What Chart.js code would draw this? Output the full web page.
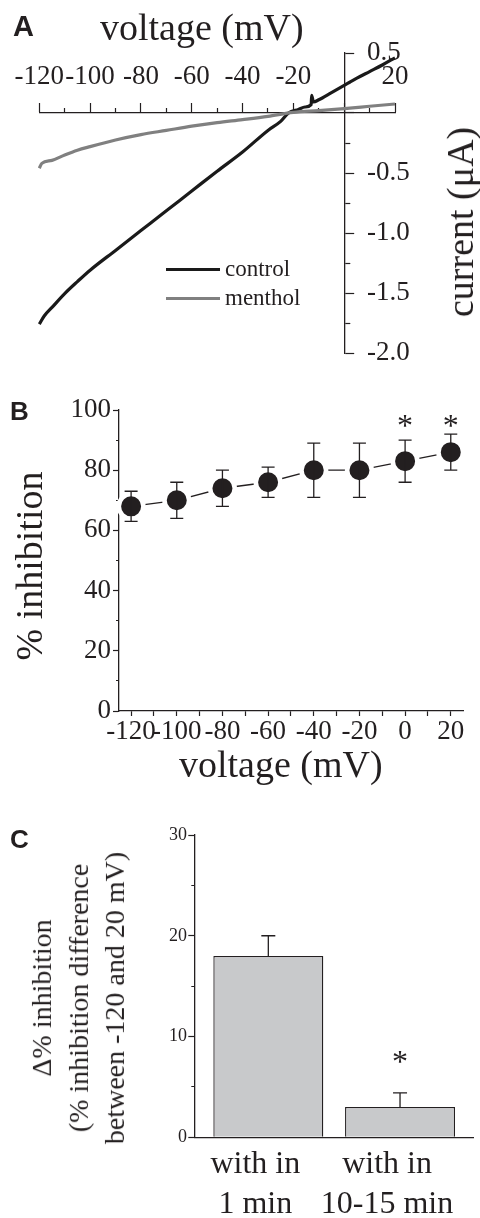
<!DOCTYPE html>
<html>
<head>
<meta charset="utf-8">
<script src="https://cdn.jsdelivr.net/npm/chart.js@4.4.1/dist/chart.umd.min.js"></script>
<style>
  body { margin: 0; width: 480px; height: 1218px; position: relative; background: #fff; overflow: hidden; }
  .panel { position: absolute; left: 0; width: 480px; }
  .txt { position: absolute; white-space: nowrap; line-height: 1; color: #231f20; font-family: 'Liberation Serif', 'Times New Roman', serif; }
  .rot { transform: translate(-50%, -50%) rotate(-90deg); text-align: center; }
  .letter { position: absolute; font-family: 'Liberation Sans', Arial, sans-serif; font-weight: bold; line-height: 1; color: #231f20; }
  .swatch { position: absolute; height: 3px; width: 54px; }
</style>
</head>
<body>

<div class="panel" style="top:0;height:370px"><canvas id="chartA"></canvas></div>
<div class="panel" style="top:370px;height:420px"><canvas id="chartB"></canvas></div>
<div class="panel" style="top:790px;height:428px"><canvas id="chartC"></canvas></div>

<!-- panel letters and axis titles -->
<div class="letter" style="left:13px;top:12px;font-size:29px">A</div>
<div class="letter" style="left:10px;top:398px;font-size:26px">B</div>
<div class="letter" style="left:10px;top:826px;font-size:26px">C</div>

<div class="txt" style="left:100px;top:8px;font-size:38px">voltage (mV)</div>
<div class="txt rot" style="left:460px;top:222px;font-size:38px">current (μA)</div>

<div class="swatch" style="left:166px;top:268px;background:#1a1a1a"></div>
<div class="txt" style="left:225px;top:257px;font-size:23px">control</div>
<div class="swatch" style="left:166px;top:297px;background:#808080"></div>
<div class="txt" style="left:225px;top:286px;font-size:23px">menthol</div>

<div class="txt rot" style="left:29px;top:566px;font-size:38px">% inhibition</div>
<div class="txt" style="left:179px;top:745px;font-size:38px">voltage (mV)</div>

<div class="txt rot" style="left:79px;top:998px;font-size:28px;line-height:36.7px">Δ% inhibition<br>(% inhibition difference<br>between -120 and 20 mV)</div>

<script>
// A: current traces, voltage in mV, current in µA
const controlV = [-120, -118, -115, -110, -105, -100, -90, -80, -70, -60, -50, -40, -30, -25, -21.9, -18, -15.4, -13, -12.8, -12.1, -10, -5, 0, 5, 10, 15, 20];
const controlI = [-1.76, -1.69, -1.62, -1.505, -1.405, -1.31, -1.145, -0.98, -0.815, -0.65, -0.485, -0.325, -0.145, -0.07, 0.0, 0.03, 0.05, 0.07, 0.148, 0.092, 0.11, 0.17, 0.23, 0.29, 0.345, 0.40, 0.46];
const mentholV = [-120, -119, -115, -110, -105, -100, -90, -80, -70, -60, -50, -40, -30, -20, -10, 0, 10, 20];
const mentholI = [-0.46, -0.42, -0.395, -0.35, -0.31, -0.28, -0.225, -0.18, -0.145, -0.11, -0.08, -0.055, -0.028, 0.005, 0.02, 0.037, 0.056, 0.075];

// B: % inhibition vs voltage
const voltages = [-120, -100, -80, -60, -40, -20, 0, 20];
const inhibition = [68, 70, 74, 76, 80, 80, 83, 86];
const inhibitionErr = [5, 6, 6, 5, 9, 9, 7, 6];
const starsB = [0, 20];

// C: change of inhibition
const groupLabels = [['with in', '1 min'], ['with in', '10-15 min']];
const deltaInh = [18, 3];
const deltaErr = [2, 1.4];
const starsC = [2];

const ink = '#231f20';
Chart.defaults.font.family = "'Liberation Serif', 'Times New Roman', serif";
Chart.defaults.color = ink;
Chart.defaults.animation = false;
Chart.defaults.plugins.legend.display = false;
Chart.defaults.plugins.tooltip.enabled = false;

// short minor ticks, drawn with a dash on the tick line
function tickDash(isMajor, len, minor, fromAxis) {
  return c => {
    if (!c.tick || isMajor(c.tick.value)) return [];
    return fromAxis ? [minor, 100] : [0, len - minor, minor, 100];
  };
}
const axisGrid = (len, dash) => ({
  drawOnChartArea: false, tickLength: len, tickWidth: 1.2, tickColor: ink, tickBorderDash: dash
});
const axisBorder = { color: ink, width: 1.3 };

// asterisks drawn at data positions
function starPlugin(xs, yv, size) {
  return {
    id: 'stars',
    afterDatasetsDraw(chart) {
      const { ctx, scales: { x, y } } = chart;
      ctx.save();
      ctx.fillStyle = ink;
      ctx.font = size + "px 'Liberation Serif'";
      ctx.textAlign = 'center';
      ctx.textBaseline = 'alphabetic';
      xs.forEach((v, i) => {
        ctx.fillText('*', x.getPixelForValue(v), y.getPixelForValue(yv[i]) + 0.47 * size);
      });
      ctx.restore();
    }
  };
}

// ---------- A ----------
new Chart(document.getElementById('chartA'), {
  type: 'line',
  data: {
    datasets: [
      { label: 'control', data: controlV.map((v, i) => ({ x: v, y: controlI[i] })), borderColor: '#1a1a1a', borderWidth: 3.2, pointRadius: 0, cubicInterpolationMode: 'monotone', order: 2, clip: false },
      { label: 'menthol', data: mentholV.map((v, i) => ({ x: v, y: mentholI[i] })), borderColor: '#808080', borderWidth: 3.2, pointRadius: 0, cubicInterpolationMode: 'monotone', order: 1, clip: false }
    ]
  },
  options: {
    maintainAspectRatio: false,
    layout: { padding: { left: 39.3, right: 0, top: 0, bottom: 17 } },
    scales: {
      x: {
        type: 'linear', position: 'top', min: -120, max: 20,
        ticks: { stepSize: 10, autoSkip: false, maxRotation: 0, padding: 10, font: { size: 27 },
          callback: v => (v % 20 === 0 && v !== 0) ? String(v) : '' },
        grid: axisGrid(10, tickDash(v => v % 20 === 0, 10, 5, false)),
        border: axisBorder,
        afterFit: s => { s.height = 53; s.paddingLeft = 0; s.paddingRight = 0; }
      },
      y: {
        type: 'linear', position: 'right', min: -2, max: 0.5,
        ticks: { stepSize: 0.25, autoSkip: false, padding: 12.7, font: { size: 27 },
          callback: v => (Math.abs(v % 0.5) < 1e-9 && v !== 0) ? v.toFixed(1) : '' },
        grid: axisGrid(10, tickDash(v => Math.abs(v % 0.5) < 1e-9, 10, 5, true)),
        border: axisBorder,
        afterFit: s => { s.width = 85; s.paddingTop = 0; s.paddingBottom = 0; }
      }
    }
  },
  plugins: [{
    // move both axes so they cross at (0 mV, 0 µA)
    id: 'crossAxes',
    afterLayout(chart) {
      const { x, y } = chart.scales;
      const y0 = y.getPixelForValue(0);
      x.top = y0 - x.height;
      x.bottom = y0;
      const x0 = x.getPixelForValue(0);
      y.left = x0;
      y.right = x0 + y.width;
    }
  }]
});

// ---------- B ----------
new Chart(document.getElementById('chartB'), {
  type: 'line',
  data: {
    datasets: [{
      data: voltages.map((v, i) => ({ x: v, y: inhibition[i] })),
      borderColor: ink, borderWidth: 1.3, tension: 0, clip: false,
      pointRadius: 12.3, pointBorderWidth: 4.6, pointBackgroundColor: ink, pointBorderColor: '#fff'
    }]
  },
  options: {
    maintainAspectRatio: false,
    layout: { padding: { left: 0, right: 4, top: 40, bottom: 0 } },
    scales: {
      x: {
        type: 'linear', min: -125.3, max: 25.4,
        ticks: { stepSize: 10, includeBounds: false, autoSkip: false, maxRotation: 0, padding: 0, font: { size: 27 },
          callback: v => v % 20 === 0 ? String(v) : '' },
        grid: axisGrid(5, []),
        border: axisBorder,
        afterFit: s => { s.height = 79; s.paddingLeft = 0; s.paddingRight = 0; }
      },
      y: {
        min: 0, max: 100,
        ticks: { stepSize: 10, autoSkip: false, padding: 2, font: { size: 27 },
          callback: v => v % 20 === 0 ? String(v) : '' },
        grid: axisGrid(6, tickDash(v => v % 20 === 0, 6, 3, false)),
        border: axisBorder,
        afterFit: s => { s.width = 119; s.paddingTop = 0; s.paddingBottom = 0; }
      }
    }
  },
  plugins: [{
    id: 'errB',
    afterDatasetsDraw(chart) {
      const { ctx, scales: { x, y } } = chart;
      ctx.save();
      ctx.strokeStyle = ink;
      ctx.lineWidth = 1.3;
      voltages.forEach((v, i) => {
        const px = x.getPixelForValue(v);
        const hi = y.getPixelForValue(inhibition[i] + inhibitionErr[i]);
        const lo = y.getPixelForValue(inhibition[i] - inhibitionErr[i]);
        ctx.beginPath();
        ctx.moveTo(px, hi); ctx.lineTo(px, lo);
        ctx.moveTo(px - 6.5, hi); ctx.lineTo(px + 6.5, hi);
        ctx.moveTo(px - 6.5, lo); ctx.lineTo(px + 6.5, lo);
        ctx.stroke();
      });
      ctx.restore();
    }
  }, starPlugin(starsB, [96.3, 96.3], 32)]
});

// ---------- C ----------
new Chart(document.getElementById('chartC'), {
  type: 'bar',
  data: {
    datasets: [{
      data: deltaInh.map((d, i) => ({ x: i + 1, y: d })),
      backgroundColor: '#c8c9cb', borderColor: ink, borderWidth: 1.3,
      barPercentage: 1, categoryPercentage: 0.835
    }]
  },
  options: {
    maintainAspectRatio: false,
    layout: { padding: { left: 0, right: 7, top: 45, bottom: 0 } },
    scales: {
      x: {
        type: 'linear', min: 0.438, max: 2.554, offset: false,
        afterBuildTicks: s => { s.ticks = groupLabels.map((g, i) => ({ value: i + 1 })); },
        ticks: { autoSkip: false, maxRotation: 0, padding: 6.9, labelOffset: -13, font: { size: 32, lineHeight: 1.25 },
          callback: v => groupLabels[v - 1] },
        grid: { drawOnChartArea: false, drawTicks: false, offset: false },
        border: axisBorder,
        afterFit: s => { s.height = 80.7; s.paddingLeft = 0; s.paddingRight = 0; }
      },
      y: {
        min: 0, max: 30,
        ticks: { stepSize: 5, autoSkip: false, padding: 1.3, font: { size: 18 },
          callback: v => v % 10 === 0 ? String(v) : '' },
        grid: axisGrid(6, tickDash(v => v % 10 === 0, 6, 3, false)),
        border: axisBorder,
        afterFit: s => { s.width = 194.3; s.paddingTop = 0; s.paddingBottom = 0; }
      }
    }
  },
  plugins: [{
    id: 'errC',
    afterDatasetsDraw(chart) {
      const { ctx, scales: { x, y } } = chart;
      ctx.save();
      ctx.strokeStyle = ink;
      ctx.lineWidth = 1.3;
      deltaInh.forEach((d, i) => {
        const px = x.getPixelForValue(i + 1);
        const hi = y.getPixelForValue(d + deltaErr[i]);
        ctx.beginPath();
        ctx.moveTo(px, y.getPixelForValue(d)); ctx.lineTo(px, hi);
        ctx.moveTo(px - 7, hi); ctx.lineTo(px + 7, hi);
        ctx.stroke();
      });
      ctx.restore();
    }
  }, starPlugin(starsC, [8], 32)]
});
</script>
</body>
</html>
